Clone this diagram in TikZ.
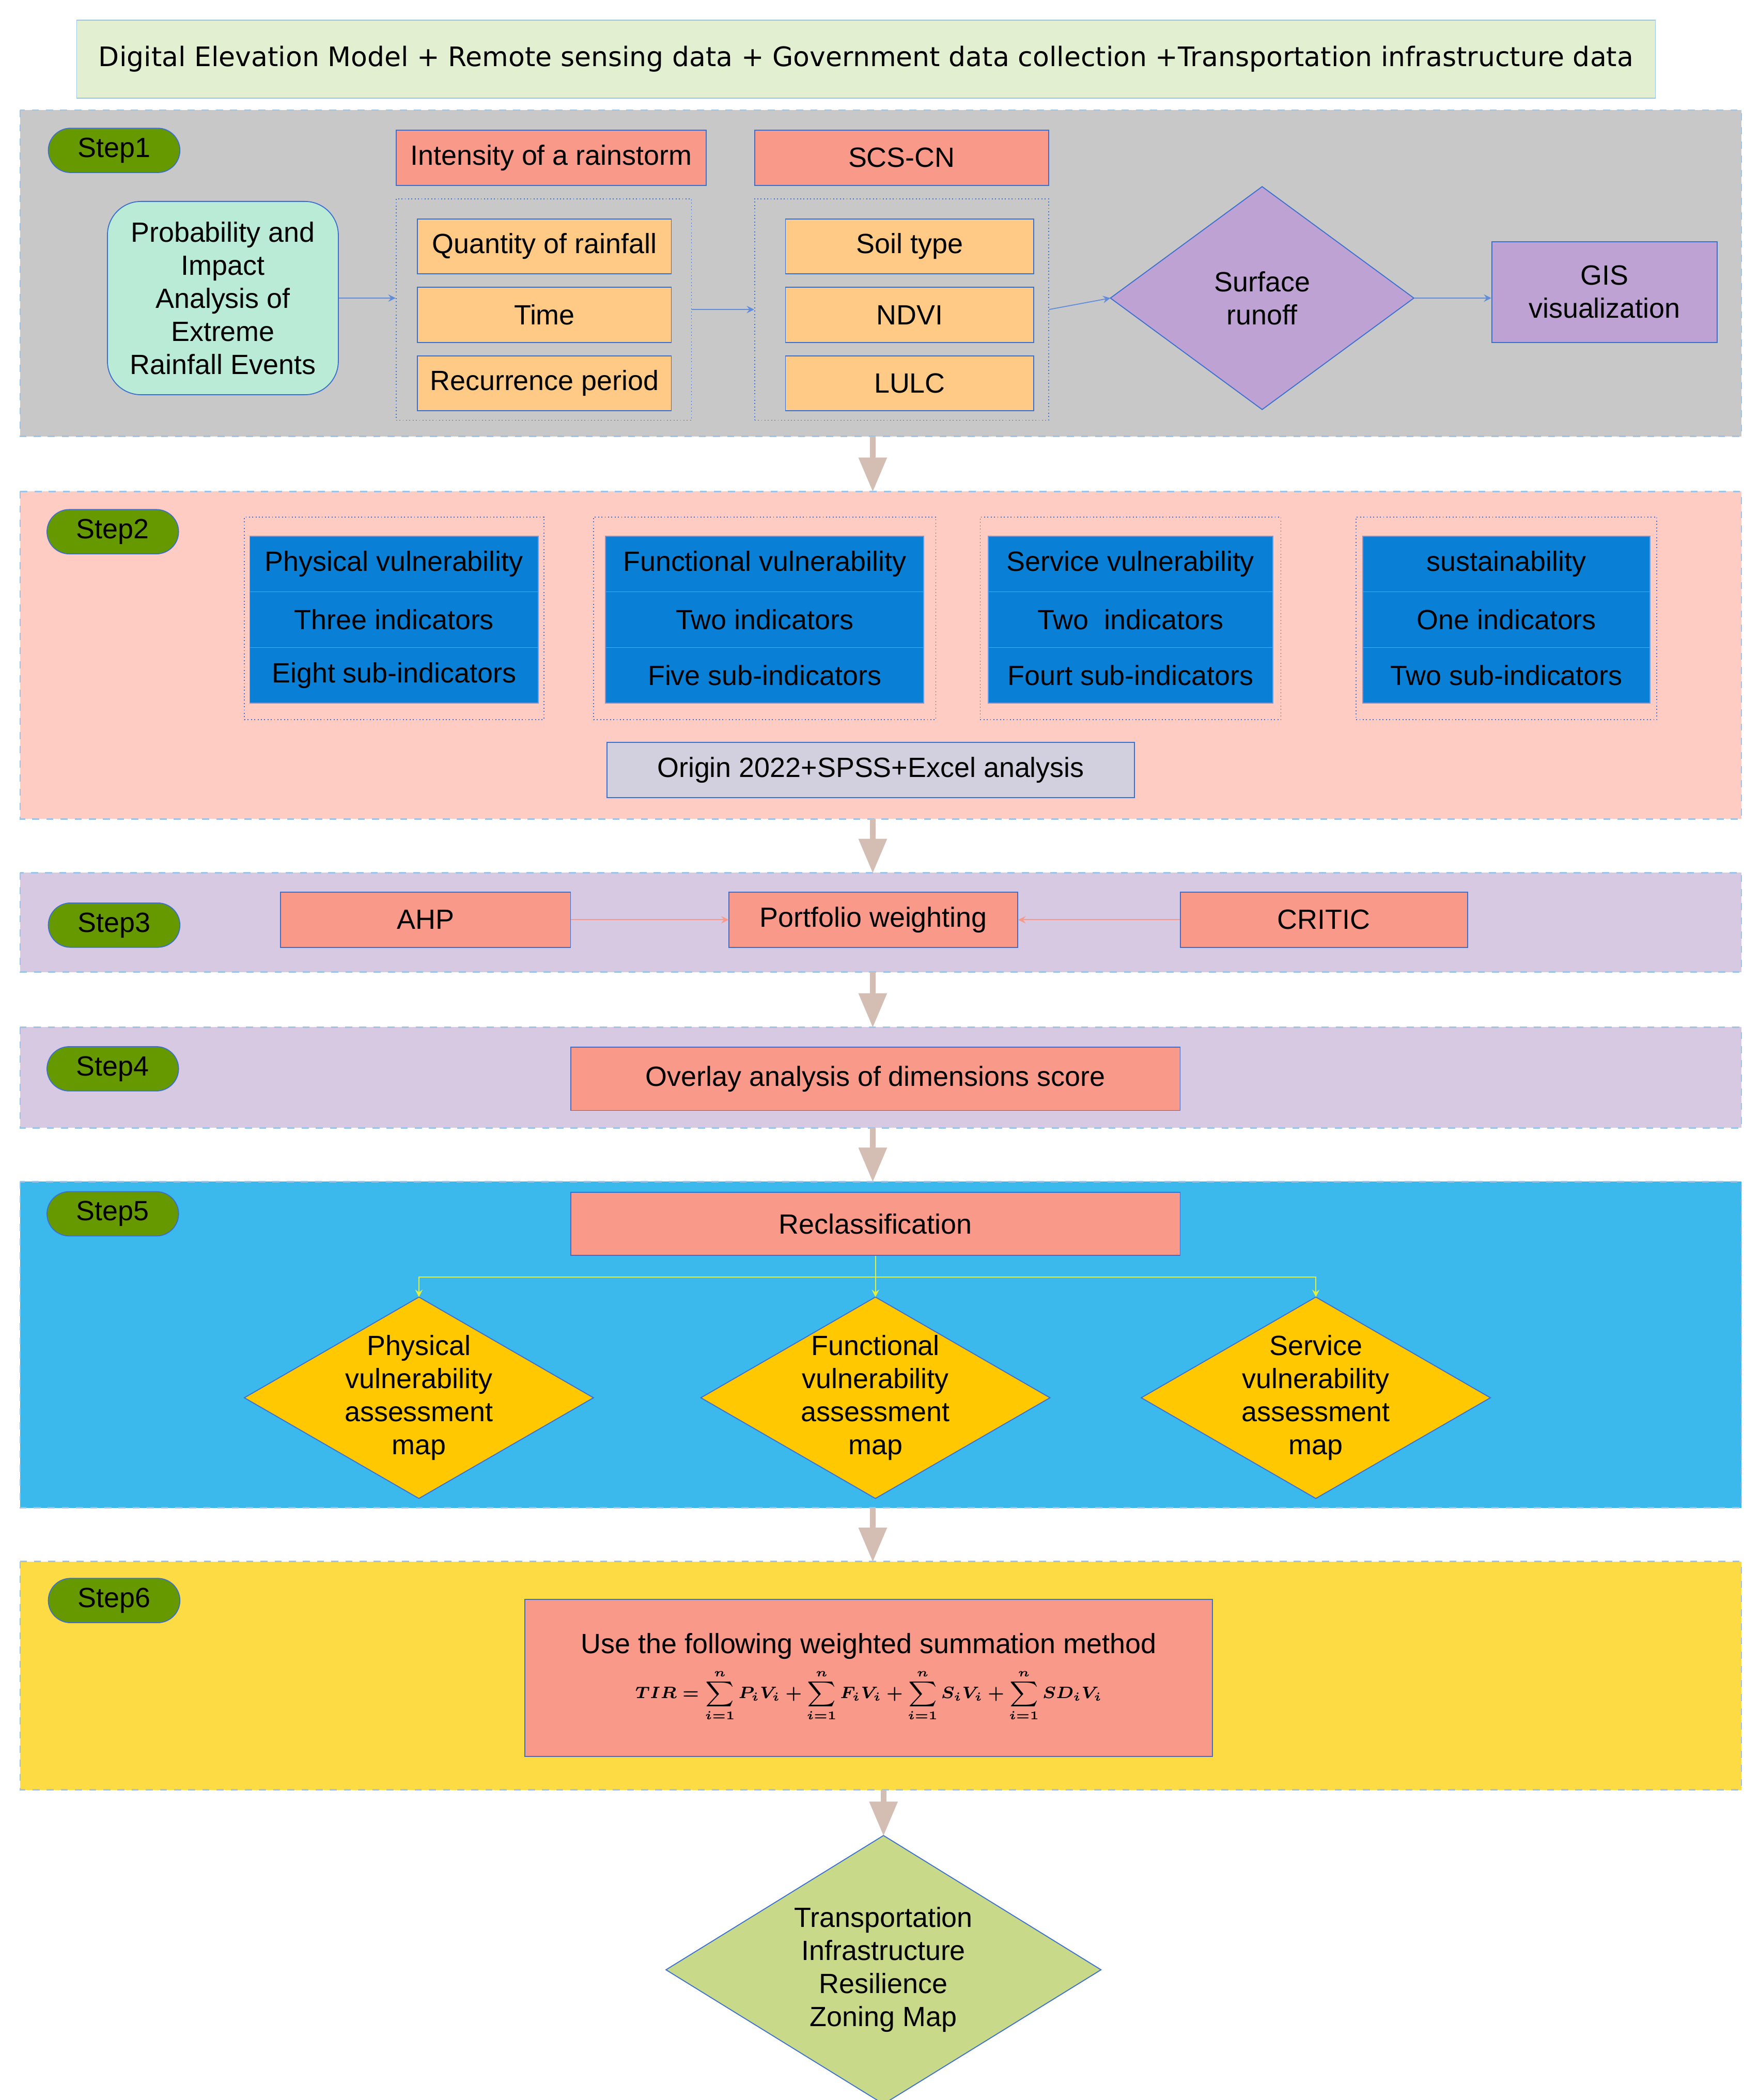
\documentclass[tikz,border=0pt]{standalone}
\usepackage{amsmath}
\usepackage{fontspec}
\setmainfont{Liberation Sans}
\newfontfamily\topfont{DejaVu Sans}
\usetikzlibrary{arrows}
\definecolor{panelline}{HTML}{9DC3E6}
\definecolor{boxline}{HTML}{3A6FD0}
\definecolor{salmon}{HTML}{F8998A}
\definecolor{orangebox}{HTML}{FFCA85}
\definecolor{purplebox}{HTML}{BFA2D4}
\definecolor{bluebox}{HTML}{0A7FD6}
\definecolor{stepgreen}{HTML}{669900}
\definecolor{thickarrow}{HTML}{D4BDB3}
\definecolor{topgreen}{HTML}{E2EFD0}
\definecolor{mint}{HTML}{B9EBD6}
\definecolor{gold}{HTML}{FFC800}
\definecolor{finalgreen}{HTML}{C9D98A}
\definecolor{linkyellow}{HTML}{E4F03C}
\definecolor{stepgray}{HTML}{C8C8C8}
\definecolor{steppink}{HTML}{FFCCC4}
\definecolor{steplilac}{HTML}{D7C9E2}
\definecolor{stepcyan}{HTML}{3BB9EC}
\definecolor{stepyellow}{HTML}{FDDB44}
\definecolor{origingray}{HTML}{D2D0DF}
% diamond of fixed size: centre x, centre y, half width, half height, fill
\newcommand{\diamondbg}[5]{\filldraw[draw=boxline,fill=#5] (#1-#3,#2) -- (#1,#2-#4) -- (#1+#3,#2) -- (#1,#2+#4) -- cycle;}
\begin{document}
\begin{tikzpicture}[x=0.02cm,y=-0.02cm,>=stealth,font=\fontsize{11.8}{14}\selectfont,
  panel/.style={draw=panelline,dashed,line width=0.6pt},
  step node/.style={draw=boxline,fill=stepgreen,rounded corners=0.33cm,minimum width=1.96cm,minimum height=0.66cm,inner sep=0pt},
  box/.style={draw=boxline,fill=salmon,minimum height=0.82cm,inner sep=2pt},
  sub box/.style={draw=boxline,fill=orangebox,minimum height=0.82cm,inner sep=2pt},
  group/.style={draw=boxline,densely dotted,minimum height=3.3cm},
  blue box/.style={draw=boxline!70!white,fill=bluebox,minimum height=0.83cm,inner sep=2pt},
  dia/.style={align=center,inner sep=0pt},
  link/.style={->,draw=boxline!80!white,thin},
  big link/.style={-triangle 45,draw=thickarrow,line width=2.4pt}]

\useasboundingbox (0,0) rectangle (1310,1564);

% top line
\node[draw=panelline,fill=topgreen,minimum width=23.52cm,minimum height=1.16cm,font=\topfont\fontsize{11.4}{13}\selectfont] (data) at (645,44) {Digital Elevation Model + Remote sensing data + Government data collection +Transportation infrastructure data};

% step 1
\filldraw[panel,fill=stepgray] (15,82) rectangle (1297,325);
\node[step node] (s1) at (85,112) {Step1};
\node[box,minimum width=4.62cm] (rain) at (410.5,117.5) {Intensity of a rainstorm};
\node[box,minimum width=4.38cm] (scs) at (671.5,117.5) {SCS-CN};
\node[draw=boxline,fill=mint,rounded corners=0.5cm,minimum width=3.44cm,minimum height=2.88cm,align=center] (prob) at (166,222) {Probability and\\Impact\\Analysis of\\Extreme\\Rainfall Events};
\node[group,minimum width=4.4cm] (g1) at (405,230.5) {};
\node[group,minimum width=4.38cm] (g2) at (671.5,230.5) {};
\node[sub box,minimum width=3.78cm] (qty) at (405.5,183.5) {Quantity of rainfall};
\node[sub box,minimum width=3.78cm] (time) at (405.5,234.5) {Time};
\node[sub box,minimum width=3.78cm] (rec) at (405.5,285.5) {Recurrence period};
\node[sub box,minimum width=3.7cm] (soil) at (677.5,183.5) {Soil type};
\node[sub box,minimum width=3.7cm] (ndvi) at (677.5,234.5) {NDVI};
\node[sub box,minimum width=3.7cm] (lulc) at (677.5,285.5) {LULC};
\diamondbg{940}{222}{113}{83}{purplebox}
\node[dia] (runoff) at (940,222) {Surface\\runoff};
\coordinate (runoffw) at (827,222); \coordinate (runoffe) at (1053,222);
\node[draw=boxline,fill=purplebox,minimum width=3.36cm,minimum height=1.5cm,align=center] (gis) at (1195,217.5) {GIS\\visualization};
\draw[link] (prob.east) -- (prob.east -| g1.west);
\draw[link] (g1.east) -- (g2.west);
\draw[link] (g2.east) -- (runoffw);
\draw[link] (runoffe) -- (runoffe -| gis.west);

% step 2
\filldraw[panel,fill=steppink] (15,366) rectangle (1297,610);
\node[step node] (s2) at (84,396) {Step2};
\foreach \name/\x/\w/\gw/\a/\b/\c in {phys/293.5/4.3/4.46/Physical vulnerability/Three indicators/Eight sub-indicators,
  func/569.5/4.74/5.1/Functional vulnerability/Two indicators/Five sub-indicators,
  serv/842/4.24/4.48/Service vulnerability/Two\ \ indicators/Fourt sub-indicators,
  sust/1122/4.28/4.48/sustainability/One indicators/Two sub-indicators}{
  \node[draw=boxline,densely dotted,minimum width=\gw cm,minimum height=3.02cm] (\name g) at (\x,460.5) {};
  \node[blue box,minimum width=\w cm] (\name a) at (\x,420) {\a};
  \node[blue box,minimum width=\w cm] (\name b) at (\x,461.5) {\b};
  \node[blue box,minimum width=\w cm] (\name c) at (\x,503) {\c};
}
\node[draw=boxline,fill=origingray,minimum width=7.86cm,minimum height=0.82cm] (origin) at (648.5,573.5) {Origin 2022+SPSS+Excel analysis};

% step 3
\filldraw[panel,fill=steplilac] (15,650) rectangle (1297,724);
\node[step node] (s3) at (85,689) {Step3};
\node[box,minimum width=4.32cm] (ahp) at (317,685) {AHP};
\node[box,minimum width=4.3cm] (port) at (650.5,685) {Portfolio weighting};
\node[box,minimum width=4.28cm] (critic) at (986,685) {CRITIC};
\draw[->,draw=salmon] (ahp) -- (port);
\draw[->,draw=salmon] (critic) -- (port);

% step 4
\filldraw[panel,fill=steplilac] (15,765) rectangle (1297,840);
\node[step node] (s4) at (84,796) {Step4};
\node[box,minimum width=9.08cm,minimum height=0.94cm] (overlay) at (652,803.5) {Overlay analysis of dimensions score};

% step 5
\filldraw[panel,fill=stepcyan] (15,880) rectangle (1297,1123);
\node[step node] (s5) at (84,904) {Step5};
\node[box,minimum width=9.08cm,minimum height=0.94cm] (recl) at (652,911.5) {Reclassification};
\diamondbg{312}{1041}{130}{75}{gold}
\diamondbg{652}{1041}{130}{75}{gold}
\diamondbg{980}{1041}{130}{75}{gold}
\node[dia] (pmap) at (312,1041) {Physical\\vulnerability\\assessment\\map};
\node[dia] (fmap) at (652,1041) {Functional\\vulnerability\\assessment\\map};
\node[dia] (smap) at (980,1041) {Service\\vulnerability\\assessment\\map};
\coordinate (ptop) at (312,966); \coordinate (ftop) at (652,966); \coordinate (stop) at (980,966);
\coordinate (split) at (652,951);
\draw[linkyellow,thin] (recl) -- (split);
\draw[->,linkyellow,thin] (split) -| (ptop);
\draw[->,linkyellow,thin] (split) -- (ftop);
\draw[->,linkyellow,thin] (split) -| (stop);

% step 6
\filldraw[panel,fill=stepyellow] (15,1163) rectangle (1297,1333);
\node[step node] (s6) at (85,1192) {Step6};
\node[box,minimum width=10.24cm,minimum height=2.34cm,align=center] (sum) at (647,1249.5) {Use the following weighted summation method\\[3pt]
  {\fontsize{7.5}{8}\selectfont$\displaystyle\boldsymbol{TIR=\sum_{i=1}^{n}P_iV_i+\sum_{i=1}^{n}F_iV_i+\sum_{i=1}^{n}S_iV_i+\sum_{i=1}^{n}SD_iV_i}$}};

% final map
\diamondbg{658}{1467}{162}{100}{finalgreen}
\node[dia] (final) at (658,1467) {Transportation\\Infrastructure\\Resilience\\Zoning Map};

% arrows between steps
\coordinate (a1) at (650,325); \coordinate (b1) at (650,366);
\coordinate (a2) at (650,610); \coordinate (b2) at (650,650);
\coordinate (a3) at (650,724); \coordinate (b3) at (650,765);
\coordinate (a4) at (650,840); \coordinate (b4) at (650,880);
\coordinate (a5) at (650,1123); \coordinate (b5) at (650,1163);
\coordinate (a6) at (658,1333); \coordinate (b6) at (658,1367);
\foreach \i in {1,...,6} \draw[big link] (a\i) -- (b\i);
\end{tikzpicture}
\end{document}
